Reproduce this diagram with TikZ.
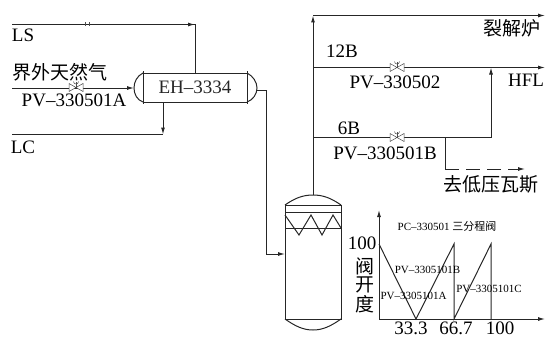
\documentclass[tikz,border=0pt]{standalone}
\usepackage{fontspec}
\setmainfont{Liberation Serif}
\newfontfamily\cjk{Noto Sans CJK SC}
\usetikzlibrary{arrows.meta}
\tikzset{
pipe/.style={line width=1pt,black!85},
flow/.style={pipe,-{Latex[length=7pt,width=4pt]}},
big/.style={inner sep=0pt,font=\fontsize{19}{20}\selectfont},
small/.style={inner sep=0pt,font=\fontsize{11}{12}\selectfont},
valve/.style={line width=0.5pt,black!70}
}
\begin{document}
\begin{tikzpicture}[x=1pt,y=-1pt]
\useasboundingbox (0,0) rectangle (545,337);
\node (eh)[draw,pipe,big,minimum width=104pt,minimum height=29pt] at (195,87.5) {EH–3334};
\node (column)[draw,pipe,minimum width=56pt,minimum height=114pt] at (313,262) {};
\foreach \name/\x/\y in {ls0/12/24.5,ls1/195/24.5,gas0/12/88,gas1/134/88,lc0/12/134.5,lc1/163/134.5,ehr/257/90,ehd/266/90,coli/266/254,colin/285/254,top/313/195,main/313/15.5,crack/545/15.5,hfl0/313/67.5,hfl1/545/67.5,hfl2/491/67.5,b0/313/137.5,b1/491/137.5,low0/445/137.5,low1/445/155,low2/445/169,low3/525/169,org/379/319,yend/379/210,xend/545/319}
\coordinate (\name) at (\x,\y);
% pipes
\draw[pipe] (ls0) -- (ls1) -- (eh.north);
\draw[flow] (ls0) -- (ls1);
\draw[flow] (gas0) -- (gas1);
\draw[flow] (eh.south -| lc1) -- (lc1);
\draw[pipe] (lc0) -- (lc1);
\draw[pipe] (ehr) -- (ehd) -- (coli);
\draw[flow] (coli) -- (colin);
\draw[flow] (top) -- (main);
\draw[flow] (main) -- (crack);
\draw[flow] (hfl0) -- (hfl1);
\draw[pipe] (b0) -- (b1);
\draw[flow] (b1) -- (hfl2);
\draw[pipe] (low0) -- (low1);
\draw[pipe] (low1) -- (low2);
\draw[flow,dash pattern=on 14pt off 7pt] (low2) -- (low3);
% heat exchanger
\draw[pipe] (143,71) -- (143,104);
\draw[pipe] (247,71) -- (247,104);
\draw[pipe] (143,73) .. controls (137,76) and (134,82) .. (134,88) .. controls (134,94) and (137,100) .. (143,102);
\draw[pipe] (247,73) .. controls (253,76) and (257,82) .. (257,88) .. controls (257,94) and (253,100) .. (247,102);
\draw[valve] (85,22.5) -- (85,26.5) (89,22.5) -- (89,26.5);
% valves
\foreach \x/\y in {76/87.5,397/67.5,397/137.5}{
\draw[valve,fill=white] (\x-7,\y-4) -- (\x+7,\y+4) -- (\x+7,\y-4) -- (\x-7,\y+4) -- cycle;
\draw[valve] (\x,\y) -- (\x,\y-6);
\draw[valve] (\x-2.5,\y-6) arc (180:0:2.5);
}
% column
\draw[pipe] (285,205) .. controls (295,198) and (303,195) .. (313,195) .. controls (323,195) and (331,198) .. (341,205);
\draw[pipe] (285,319) .. controls (295,326) and (303,330) .. (313,330) .. controls (323,330) and (331,326) .. (341,319);
\draw[pipe] (285,212) -- (341,212);
\draw[pipe] (285,228) -- (341,228);
\draw[pipe] (285,215) -- (299,235) -- (311,215) -- (322,235) -- (333,215) -- (341,228);
% chart
\draw[flow] (org) -- (yend);
\draw[flow] (org) -- (xend);
\draw[pipe] (379,244) -- (416,319) -- (454,244) -- (454,319) -- (491,244) -- (491,319);
% labels
\foreach \name/\x/\y/\txt in {ls/23/35/LS,lc/23/147/LC,pva/74/100/PV–330501A,n12/342/51/12B,pvb/395/82/PV–330502,hflt/526/80/HFL,n6/349/128/6B,pvc/385/153/PV–330501B,y100/362/243/100,t33/411/328/33.3,t66/456/328/66.7,t100/500/328/100}
\node[big] (\name) at (\x,\y) {\txt};
\foreach \name/\x/\y/\txt in {gas/60/72/界外天然气,cracker/512/28/裂解炉,lowgas/491/184/去低压瓦斯,ya/365/266/阀,yb/365/285/开,yc/365/304/度}
\node[big] (\name) at (\x,\y) {\cjk\txt};
\node[small] (title) at (447,226) {PC–330501 {\cjk 三分程阀}};
\foreach \name/\x/\y/\txt in {pa/413.5/296/PV–3305101A,pb/427.5/270/PV–3305101B,pc/489/289/PV–3305101C}
\node[small] (\name) at (\x,\y) {\txt};
\end{tikzpicture}
\end{document}
